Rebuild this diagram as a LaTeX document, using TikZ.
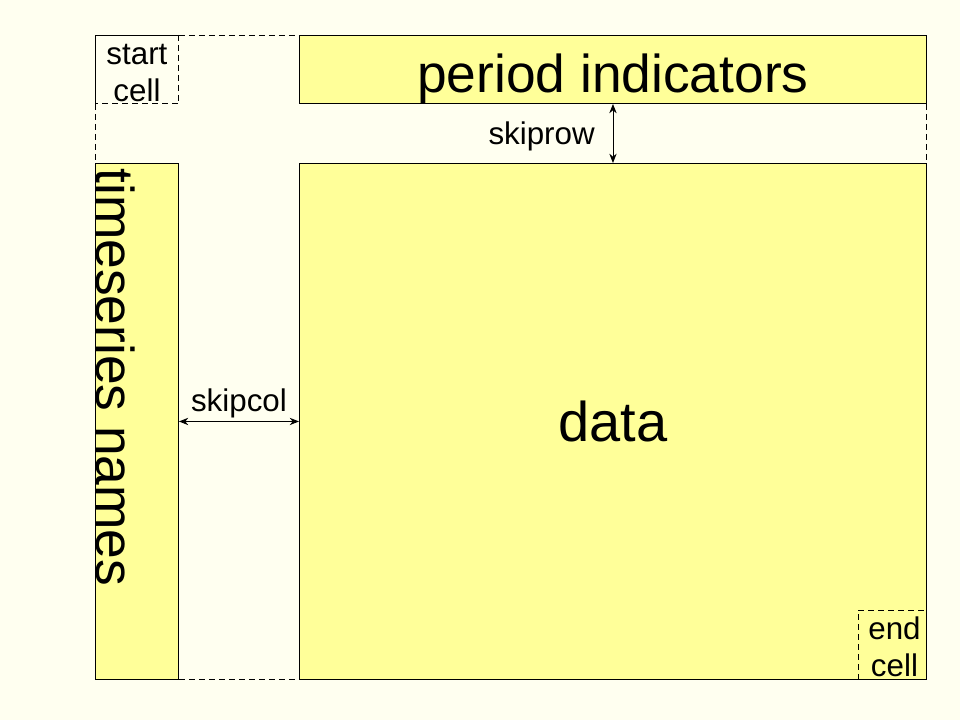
\documentclass[tikz,border=0pt]{standalone}
\usepackage{fontspec}
\setmainfont{Liberation Sans}
\usepackage{xcolor}
\usetikzlibrary{arrows.meta,calc}
\definecolor{paper}{HTML}{FFFFF0}
\definecolor{cellfill}{HTML}{FFFF99}

\begin{document}
\begin{tikzpicture}[x=0.75pt,y=-0.75pt,line width=0.7pt,
		box/.style={draw,fill=cellfill,inner sep=0pt,anchor=north west},
		gap/.style={dash pattern=on 4.5pt off 3pt},
		big/.style={font=\fontsize{40}{48}\selectfont},
		huge/.style={font=\fontsize{42}{50}\selectfont},
		small/.style={font=\fontsize{23.5}{27.5}\selectfont,align=center},
		span/.style={{Stealth[length=7pt,width=5.5pt]}-{Stealth[length=7pt,width=5.5pt]}}]
		
		\fill[paper] (0,0) rectangle (960,720);
		\useasboundingbox (0,0) rectangle (960,720);
		
		% the blocks
		\node[box,minimum width=470.25pt,minimum height=51pt] (p) at (299,35) {};
		\node[box,minimum width=62.25pt,minimum height=387pt] (n) at (95,163) {};
		\node[box,minimum width=470.25pt,minimum height=387pt,huge] (d) at (299,163) {data};
		
		\node[big,yshift=-7pt] (pt) at (p.center) {period indicators};
		\node[big,rotate=-90,anchor=base west,inner sep=0pt] (nt) at ($(n.north west)+(1,5)$) {timeseries names};
		
		% start and end cell
		\node[inner sep=0pt,anchor=north west,minimum width=62.25pt,minimum height=51pt] (s) at (95,35) {};
		\node[small,yshift=-2.5pt] (st) at (s.center) {start\\cell};
		\draw (s.south west) -- (s.north west) -- (s.north east);
		\draw[gap] (s.north east) -- (s.south east) -- (s.south west);
		
		\node[inner sep=0pt,anchor=south east,minimum width=51pt,minimum height=51.75pt] (e) at (d.south east) {};
		\node[small,xshift=1.5pt,yshift=-1.5pt] (et) at (e.center) {end\\cell};
		\draw[gap] (e.south west) -- (e.north west) -- (e.north east);
		
		% skipped rows and columns
		\draw[gap] (s.north east) -- (p.north west);
		\draw[gap] (s.south west) -- (n.north west);
		\draw[gap] (p.south east) -- (d.north east);
		\draw[gap] (n.south east) -- (d.south west);
		
		\draw[span] (p.south) -- node[left=10pt,small,yshift=-2pt] {skiprow} (d.north);
		\draw[span] (n.east) -- node[above=0pt,inner sep=2pt,small] {skipcol} (d.west);
		
	\end{tikzpicture}
\end{document}
